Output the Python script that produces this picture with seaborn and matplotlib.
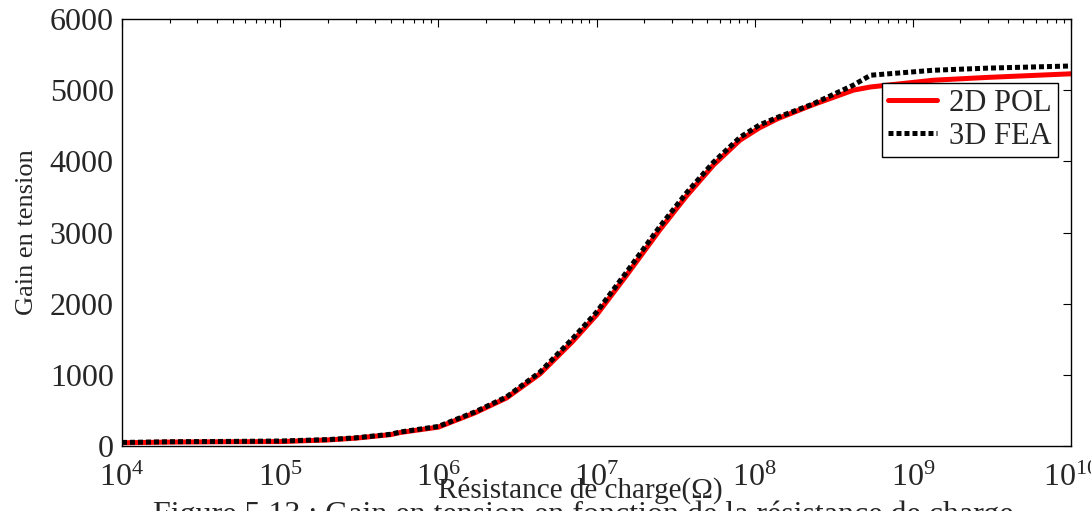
import numpy as np
import pandas as pd
import seaborn as sns
from matplotlib import pyplot as plt
from matplotlib.ticker import LogLocator, NullFormatter

# Données (résistance en ohms, gain)
r_pol = [1e4, 2e4, 5e4, 1e5, 2e5, 3e5, 5e5, 5.75e5, 1e6, 1.7e6, 2.7e6, 4.4e6, 7e6,
         1e7, 1.55e7, 2.5e7, 3.7e7, 5.5e7, 8.1e7, 1.07e8, 1.4e8, 2.3e8, 4.2e8,
         5.4e8, 1.35e9, 3e9, 1e10]
g_pol = [45, 55, 60, 62, 85, 110, 160, 190, 265, 465, 675, 1015, 1460,
         1840, 2400, 3030, 3510, 3950, 4300, 4470, 4600, 4790, 5000,
         5045, 5140, 5180, 5230]
r_fea = [1e4, 2e4, 5e4, 1e5, 2e5, 3e5, 5e5, 5.75e5, 1e6, 1.7e6, 2.7e6, 4.4e6, 7e6,
         1e7, 1.55e7, 2.5e7, 3.7e7, 5.5e7, 8.1e7, 1.07e8, 1.4e8, 2.3e8, 4.2e8,
         5.4e8, 1.35e9, 3e9, 1e10]
g_fea = [50, 60, 65, 70, 90, 115, 165, 197, 275, 478, 690, 1040, 1500,
         1880, 2445, 3077, 3555, 3990, 4340, 4510, 4620, 4800, 5070,
         5210, 5280, 5310, 5340]

df_pol = pd.DataFrame({"R": r_pol, "G": g_pol})
df_fea = pd.DataFrame({"R": r_fea, "G": g_fea})

sns.set_style("white")
plt.rcParams["font.family"] = ["Liberation Serif", "DejaVu Serif"]
plt.rcParams["mathtext.fontset"] = "stix"

fig = plt.figure(figsize=(10.91, 5.11), dpi=100)
ax = fig.add_axes([0.1118, 0.1272, 0.8699, 0.8356])

sns.lineplot(df_pol, x="R", y="G", color="#ff0000", linewidth=3.6, label="2D POL", ax=ax)
sns.lineplot(df_fea, x="R", y="G", color="black", linewidth=3.6, linestyle=(0, (1, 0.6)),
             label="3D FEA", ax=ax)

ax.set_xscale("log")
ax.set_xlim(1e4, 1e10)
ax.set_ylim(0, 6000)
ax.set_yticks(range(0, 6001, 1000))
ax.xaxis.set_major_locator(LogLocator(base=10, numticks=10))
ax.xaxis.set_minor_locator(LogLocator(base=10, subs=np.arange(2, 10), numticks=100))
ax.xaxis.set_minor_formatter(NullFormatter())
ax.tick_params(which="both", direction="in", top=True, right=True, width=0.8, color="black")
ax.tick_params(which="major", length=5.8)
ax.tick_params(which="minor", length=3.2)
ax.tick_params(axis="y", labelsize=23, pad=6)
ax.tick_params(axis="x", labelsize=23, pad=13)
for s in ax.spines.values():
    s.set_color("black")
    s.set_linewidth(1)

ax.set_xlabel("Résistance de charge(Ω)", fontsize=21)
ax.xaxis.set_label_coords(0.4826, -0.0726)
ax.set_ylabel("Gain en tension", fontsize=19)
ax.yaxis.set_label_coords(-0.0885, 0.5)

leg = ax.legend(loc="upper right", bbox_to_anchor=(0.9863, 0.85), fontsize=22,
                frameon=True, fancybox=False, edgecolor="black", framealpha=1,
                handlelength=1.6, borderpad=0.2, labelspacing=0.12, handletextpad=0.4,
                borderaxespad=0)
leg.get_frame().set_linewidth(1)

fig.text(0.535, 0.0196, "Figure 5.13 : Gain en tension en fonction de la résistance de charge",
         ha="center", va="top", fontsize=23)

fig.savefig("out.png", dpi=100)
